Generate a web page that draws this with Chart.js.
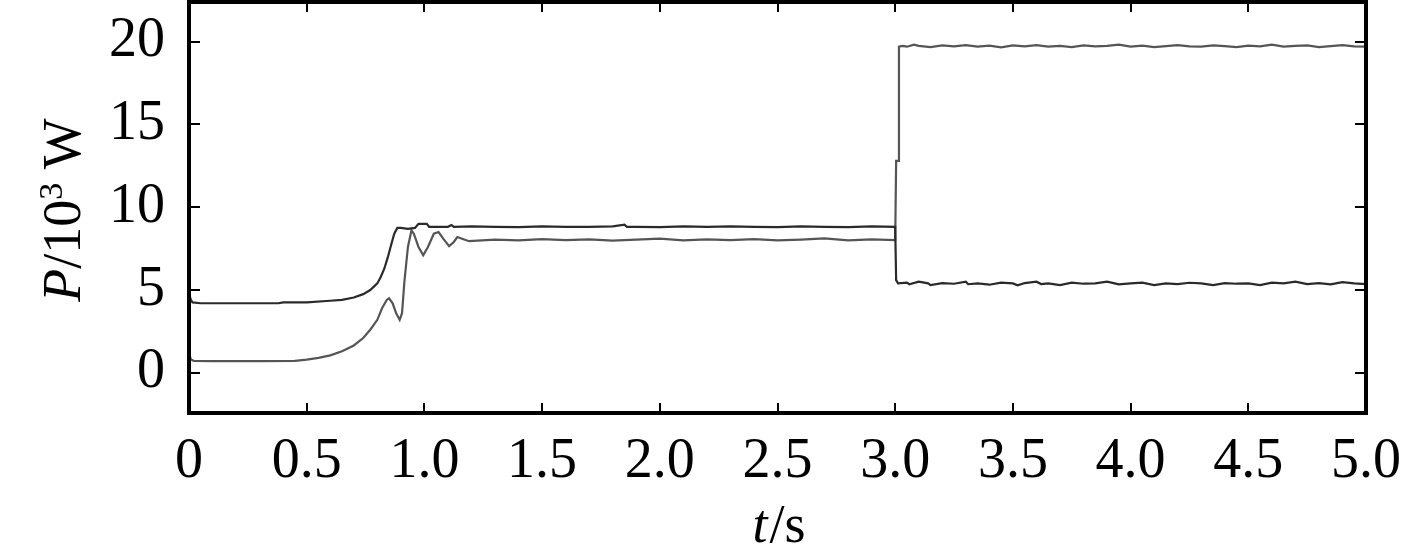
<!DOCTYPE html>
<html>
<head>
<meta charset="utf-8">
<script src="https://cdn.jsdelivr.net/npm/chart.js@4.4.1/dist/chart.umd.min.js"></script>
<style>
  html, body { margin: 0; padding: 0; background: #ffffff; }
  #wrap { width: 1417px; height: 560px; position: relative; }
</style>
</head>
<body>
<div id="wrap"><canvas id="c" width="1417" height="560"></canvas></div>
<script>
// ---- data ----
const xTickValues = [0, 0.5, 1.0, 1.5, 2.0, 2.5, 3.0, 3.5, 4.0, 4.5, 5.0];
const xTickLabels = ['0', '0.5', '1.0', '1.5', '2.0', '2.5', '3.0', '3.5', '4.0', '4.5', '5.0'];
const yTickValues = [0, 5, 10, 15, 20];
const yTickLabels = ['0', '5', '10', '15', '20'];
const xTitleItalic = 't';
const xTitleRest = '/s';
const yTitleItalic = 'P';
const yTitleBase = '/10';
const yTitleSup = '3';
const yTitleUnit = ' W';

// series A (dark): 4.2 kW -> 8.8 kW -> 5.4 kW
const tA = [0, 0.002, 0.008, 0.015, 0.05, 0.2, 0.38, 0.4, 0.5, 0.6, 0.65, 0.7, 0.74, 0.77, 0.8, 0.815, 0.83, 0.845, 0.86, 0.872, 0.885, 0.9, 0.93, 0.96, 0.975, 1.01, 1.02, 1.1, 1.115, 1.125, 1.2, 1.3, 1.4, 1.5, 1.6, 1.7, 1.8, 1.85, 1.86, 1.9, 2.0, 2.1, 2.2, 2.3, 2.4, 2.5, 2.6, 2.7, 2.8, 2.9, 3.0, 3.003, 3.004, 3.012,
  3.05, 3.06, 3.1, 3.14, 3.15, 3.2, 3.25, 3.3, 3.31, 3.35, 3.4, 3.45, 3.5, 3.52, 3.55, 3.6, 3.62, 3.65, 3.7, 3.75, 3.8, 3.85, 3.9, 3.95, 4.0, 4.05, 4.1, 4.15, 4.2, 4.25, 4.3, 4.35, 4.4, 4.45, 4.5, 4.55, 4.6, 4.65, 4.7, 4.75, 4.8, 4.85, 4.9, 4.95, 5.0];
const pA = [0.4, 4.7, 4.4, 4.25, 4.2, 4.2, 4.2, 4.25, 4.25, 4.35, 4.4, 4.55, 4.75, 5.0, 5.4, 5.8, 6.3, 7.0, 7.8, 8.4, 8.75, 8.75, 8.7, 8.75, 9.0, 9.0, 8.82, 8.82, 8.92, 8.82, 8.84, 8.82, 8.8, 8.84, 8.82, 8.82, 8.84, 8.95, 8.82, 8.82, 8.8, 8.84, 8.82, 8.85, 8.82, 8.8, 8.84, 8.82, 8.8, 8.84, 8.82, 8.82, 5.6, 5.4,
  5.45, 5.35, 5.5, 5.4, 5.3, 5.42, 5.38, 5.5, 5.35, 5.4, 5.32, 5.45, 5.4, 5.28, 5.42, 5.5, 5.36, 5.4, 5.3, 5.45, 5.38, 5.4, 5.5, 5.34, 5.4, 5.45, 5.3, 5.4, 5.36, 5.44, 5.4, 5.3, 5.42, 5.38, 5.4, 5.3, 5.45, 5.4, 5.5, 5.36, 5.42, 5.34, 5.48, 5.4, 5.35];

// series B (lighter): 0.7 kW -> 8.0 kW (with oscillation) -> 19.7 kW
const tB = [0, 0.002, 0.008, 0.02, 0.1, 0.3, 0.45, 0.5, 0.55, 0.6, 0.65, 0.7, 0.74, 0.77, 0.8, 0.82, 0.84, 0.85, 0.865, 0.88, 0.895, 0.905, 0.915, 0.93, 0.945, 0.955, 0.975, 0.995, 1.015, 1.04, 1.06, 1.08, 1.105, 1.125, 1.14, 1.16, 1.19, 1.3, 1.4, 1.5, 1.6, 1.7, 1.8, 1.9, 2.0, 2.1, 2.2, 2.3, 2.4, 2.5, 2.6, 2.7, 2.8, 2.9, 3.0, 3.003, 3.004, 3.015, 3.016, 3.03,
  3.05, 3.08, 3.1, 3.15, 3.2, 3.25, 3.3, 3.35, 3.4, 3.45, 3.5, 3.55, 3.6, 3.65, 3.7, 3.75, 3.8, 3.85, 3.9, 3.95, 4.0, 4.05, 4.1, 4.15, 4.2, 4.25, 4.3, 4.35, 4.4, 4.45, 4.5, 4.55, 4.6, 4.65, 4.7, 4.75, 4.8, 4.85, 4.9, 4.95, 5.0];
const pB = [0.0, 1.1, 0.8, 0.72, 0.7, 0.7, 0.72, 0.8, 0.9, 1.05, 1.3, 1.65, 2.1, 2.6, 3.2, 3.9, 4.4, 4.5, 4.2, 3.6, 3.2, 3.6, 5.5, 7.6, 8.6, 8.4, 7.6, 7.1, 7.6, 8.4, 8.5, 8.1, 7.65, 7.9, 8.2, 8.1, 7.95, 8.05, 8.0, 8.08, 8.02, 8.06, 7.98, 8.05, 8.1, 8.0, 8.06, 8.02, 8.08, 8.0, 8.05, 8.12, 8.0, 8.06, 8.02, 8.02, 12.8, 12.8, 19.7, 19.75,
  19.7, 19.82, 19.75, 19.68, 19.78, 19.72, 19.8, 19.7, 19.76, 19.66, 19.78, 19.72, 19.8, 19.7, 19.75, 19.68, 19.78, 19.72, 19.75, 19.82, 19.7, 19.76, 19.68, 19.74, 19.8, 19.72, 19.7, 19.78, 19.74, 19.68, 19.76, 19.72, 19.82, 19.7, 19.75, 19.78, 19.68, 19.74, 19.8, 19.72, 19.7];

const toXY = (ts, ps) => ts.map((t, i) => ({ x: t, y: ps[i] }));

const FONT = "'Liberation Serif', 'Times New Roman', serif";

const framePlugin = {
  id: 'frame',
  afterDatasetsDraw(chart) {
    const { ctx, chartArea: a, scales } = chart;
    const xs = scales.x, ys = scales.y;
    ctx.save();
    ctx.strokeStyle = '#000';
    ctx.lineWidth = 2;
    ctx.beginPath();
    xTickValues.forEach(v => {
      const px = Math.round(xs.getPixelForValue(v));
      ctx.moveTo(px, a.bottom); ctx.lineTo(px, a.bottom - 10);
      ctx.moveTo(px, a.top); ctx.lineTo(px, a.top + 10);
    });
    yTickValues.forEach(v => {
      const py = Math.round(ys.getPixelForValue(v));
      ctx.moveTo(a.left, py); ctx.lineTo(a.left + 11, py);
      ctx.moveTo(a.right, py); ctx.lineTo(a.right - 11, py);
    });
    ctx.stroke();
    ctx.lineWidth = 4;
    ctx.strokeRect(a.left, a.top, a.right - a.left, a.bottom - a.top);
    ctx.restore();
  },
  afterDraw(chart) {
    const { ctx } = chart;
    ctx.save();
    ctx.fillStyle = '#000';
    ctx.textBaseline = 'alphabetic';
    // x title
    const fs = 54;
    const fItal = 'italic ' + fs + 'px ' + FONT;
    const fNorm = fs + 'px ' + FONT;
    ctx.font = fItal; const w1 = ctx.measureText(xTitleItalic).width;
    ctx.font = fNorm; const w2 = ctx.measureText(xTitleRest).width;
    let x0 = 778 - (w1 + w2) / 2;
    ctx.textAlign = 'left';
    ctx.font = fItal; ctx.fillText(xTitleItalic, x0, 542);
    ctx.font = fNorm; ctx.fillText(xTitleRest, x0 + w1 + 2, 542);
    // y title (rotated)
    const fSup = '34px ' + FONT;
    ctx.font = fItal; const a1 = ctx.measureText(yTitleItalic).width;
    ctx.font = fNorm; const a2 = ctx.measureText(yTitleBase).width;
    ctx.font = fSup; const a3 = ctx.measureText(yTitleSup).width;
    ctx.font = fNorm; const a4 = ctx.measureText(yTitleUnit).width;
    const total = a1 + a2 + a3 + a4;
    ctx.translate(80, 210);
    ctx.rotate(-Math.PI / 2);
    let cx = -total / 2;
    ctx.font = fItal; ctx.fillText(yTitleItalic, cx, 0); cx += a1;
    ctx.font = fNorm; ctx.fillText(yTitleBase, cx, 0); cx += a2;
    ctx.font = fSup; ctx.fillText(yTitleSup, cx, -18); cx += a3;
    ctx.font = fNorm; ctx.fillText(yTitleUnit, cx, 0);
    ctx.restore();
  }
};

new Chart(document.getElementById('c'), {
  type: 'line',
  data: {
    datasets: [
      { label: 'A', data: toXY(tA, pA), borderColor: '#2a2a2a', borderWidth: 2.2, pointRadius: 0, tension: 0, fill: false },
      { label: 'B', data: toXY(tB, pB), borderColor: '#555555', borderWidth: 2.2, pointRadius: 0, tension: 0, fill: false }
    ]
  },
  options: {
    responsive: false,
    animation: false,
    events: [],
    layout: { padding: { top: 2, right: 51, left: 0, bottom: 0 } },
    plugins: { legend: { display: false }, tooltip: { enabled: false }, title: { display: false } },
    scales: {
      x: {
        type: 'linear', min: 0, max: 5,
        grid: { display: false, drawTicks: false },
        border: { display: false },
        afterBuildTicks: s => { s.ticks = xTickValues.map(v => ({ value: v })); },
        afterFit: s => { s.height = 147; s.paddingLeft = 0; s.paddingRight = 0; },
        ticks: {
          autoSkip: false, maxRotation: 0, padding: 16, color: '#000',
          font: { family: FONT, size: 56 },
          callback: (v, i) => xTickLabels[i]
        }
      },
      y: {
        type: 'linear', min: -2.43, max: 22.4,
        grid: { display: false, drawTicks: false },
        border: { display: false },
        afterBuildTicks: s => { s.ticks = yTickValues.map(v => ({ value: v })); },
        afterFit: s => { s.width = 189; s.paddingTop = 0; s.paddingBottom = 0; },
        ticks: {
          autoSkip: false, padding: 24, color: '#000',
          font: { family: FONT, size: 56 },
          callback: (v, i) => yTickLabels[i]
        }
      }
    }
  },
  plugins: [framePlugin]
});
</script>
</body>
</html>
